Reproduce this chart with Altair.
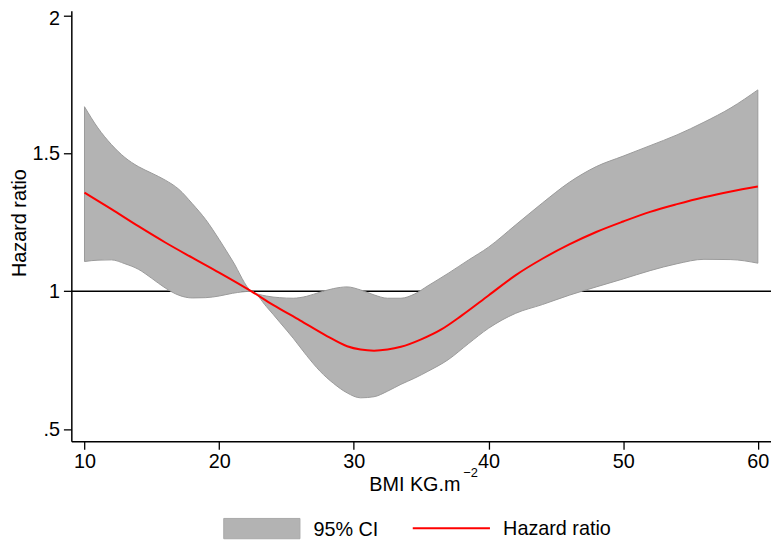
import altair as alt
import pandas as pd

# ---- data ----
bmi_ci = [10, 11, 12, 13, 14, 15, 16, 17, 18, 19, 20, 21, 22.4, 23.5, 24.5, 25.5,
          26.5, 27.5, 28.5, 29.5, 30.5, 31.5, 32.5, 33.5, 34.5, 35.5, 37, 38.5,
          40, 42, 44, 46, 48, 50, 52, 54, 56, 58, 60]
ci_upper = [1.669, 1.592, 1.532, 1.485, 1.452, 1.428, 1.403, 1.370, 1.318, 1.260,
            1.188, 1.110, 1.0, 0.983, 0.977, 0.975, 0.982, 0.997, 1.010, 1.016,
            1.005, 0.987, 0.975, 0.975, 0.990, 1.020, 1.065, 1.113, 1.160, 1.240,
            1.320, 1.395, 1.452, 1.490, 1.528, 1.567, 1.613, 1.665, 1.730]
ci_lower = [1.108, 1.113, 1.114, 1.100, 1.080, 1.047, 1.012, 0.986, 0.976, 0.977,
            0.983, 0.993, 1.0, 0.945, 0.888, 0.830, 0.767, 0.710, 0.666, 0.632,
            0.614, 0.618, 0.638, 0.663, 0.685, 0.710, 0.752, 0.810, 0.866, 0.920,
            0.952, 0.986, 1.016, 1.045, 1.075, 1.100, 1.116, 1.115, 1.102]

bmi_hr = [10, 12, 14, 16, 18, 20, 22.4, 24, 26, 28, 29.5, 30.5, 31.5, 32.5, 33.5,
          35, 36.5, 38, 40, 42, 44, 46, 48, 50, 52, 54, 56, 58, 60]
hazard_ratio = [1.358, 1.298, 1.236, 1.177, 1.122, 1.068, 1.0, 0.951, 0.895, 0.838,
                0.801, 0.789, 0.785, 0.789, 0.799, 0.826, 0.862, 0.912, 0.985,
                1.058, 1.118, 1.170, 1.215, 1.253, 1.288, 1.316, 1.341, 1.362, 1.380]

x_ticks = [10, 20, 30, 40, 50, 60]
y_ticks = [0.5, 1, 1.5, 2]
reference_hr = [1]
legend_labels = ["95% CI", "Hazard ratio"]
x_title = ["BMI KG.m"]
x_title_sup = ["\u22122"]
y_title = "Hazard ratio"

ci_df = pd.DataFrame({"bmi": bmi_ci, "lo": ci_lower, "hi": ci_upper})
hr_df = pd.DataFrame({"bmi": bmi_hr, "hr": hazard_ratio})

FONT = "Liberation Sans"
GRAY = "#b3b3b3"

xscale = alt.Scale(domain=[9.023, 60.977], nice=False, zero=False)
yscale = alt.Scale(domain=[0.4566, 2.0168], nice=False, zero=False)

xaxis = alt.Axis(values=x_ticks, title=None, grid=False, labelFontSize=20,
                 labelFont=FONT, labelColor="black", tickSize=8, tickColor="black",
                 tickWidth=1.3, domainColor="black", domainWidth=1.5, labelPadding=3,
                 labelFlush=False, labelOverlap=False)
yaxis = alt.Axis(values=y_ticks, title=y_title,
                 labelExpr="datum.value == 0.5 ? '.5' : toString(datum.value)",
                 labelOffset={"condition": {"test": "datum.value == 2", "value": 3},
                              "value": 0},
                 grid=False, labelFontSize=20, labelFont=FONT, labelColor="black",
                 tickSize=8, tickColor="black", tickWidth=1.3, domainColor="black",
                 domainWidth=1.5, labelPadding=4, labelFlush=False, labelOverlap=False,
                 titleFont=FONT, titleFontSize=20, titleFontWeight="normal",
                 titleColor="black", titleX=-46, titleY=214, titleAngle=270,
                 titleAlign="center", titleBaseline="alphabetic")

rule = alt.Chart(pd.DataFrame({"y": reference_hr})).mark_rule(
    color="black", strokeWidth=1.5
).encode(y=alt.Y("y:Q", scale=yscale, axis=yaxis))

band = alt.Chart(ci_df).mark_area(
    color=GRAY, fill=GRAY, stroke="#9a9a9a", strokeWidth=1, opacity=1,
    interpolate="monotone"
).encode(
    x=alt.X("bmi:Q", scale=xscale, axis=xaxis),
    y=alt.Y("lo:Q", scale=yscale, axis=yaxis),
    y2="hi:Q",
)

line = alt.Chart(hr_df).mark_line(
    color="#ff0000", strokeWidth=2, interpolate="monotone"
).encode(
    x=alt.X("bmi:Q", scale=xscale, axis=xaxis),
    y=alt.Y("hr:Q", scale=yscale, axis=yaxis),
)

leg_box = alt.Chart(pd.DataFrame({"label": [legend_labels[0]]})).mark_rect(
    fill=GRAY, stroke="#a8a8a8", strokeWidth=1
).encode(x=alt.value(154), x2=alt.value(231), y=alt.value(513), y2=alt.value(533.5))

leg_txt1 = alt.Chart(pd.DataFrame({"label": [legend_labels[0]]})).mark_text(
    align="left", baseline="alphabetic", fontSize=20, font=FONT, color="black"
).encode(text="label:N", x=alt.value(244.7), y=alt.value(530.3))

leg_line = alt.Chart(pd.DataFrame({"label": [legend_labels[1]]})).mark_rule(
    color="#ff0000", strokeWidth=2
).encode(x=alt.value(345), x2=alt.value(423), y=alt.value(523))

leg_txt2 = alt.Chart(pd.DataFrame({"label": [legend_labels[1]]})).mark_text(
    align="left", baseline="alphabetic", fontSize=20, font=FONT, color="black"
).encode(text="label:N", x=alt.value(436.3), y=alt.value(529.7))

xt = alt.Chart(pd.DataFrame({"t": x_title})).mark_text(
    align="left", baseline="alphabetic", fontSize=20, font=FONT, color="black"
).encode(text="t:N", x=alt.value(301), y=alt.value(485.3))

xt_sup = alt.Chart(pd.DataFrame({"t": x_title_sup})).mark_text(
    align="left", baseline="alphabetic", fontSize=13, font=FONT, color="black"
).encode(text="t:N", x=alt.value(396), y=alt.value(471.5))

chart = alt.layer(
    rule, band, line, leg_box, leg_txt1, leg_line, leg_txt2, xt, xt_sup
).properties(
    width=707, height=435,
    autosize=alt.AutoSizeParams(type="none"),
    padding={"left": 64, "top": 0, "right": 0, "bottom": 99},
    background="white",
).configure_view(stroke=None)

chart.save("out.html", embed_options={"renderer": "svg", "actions": False})
